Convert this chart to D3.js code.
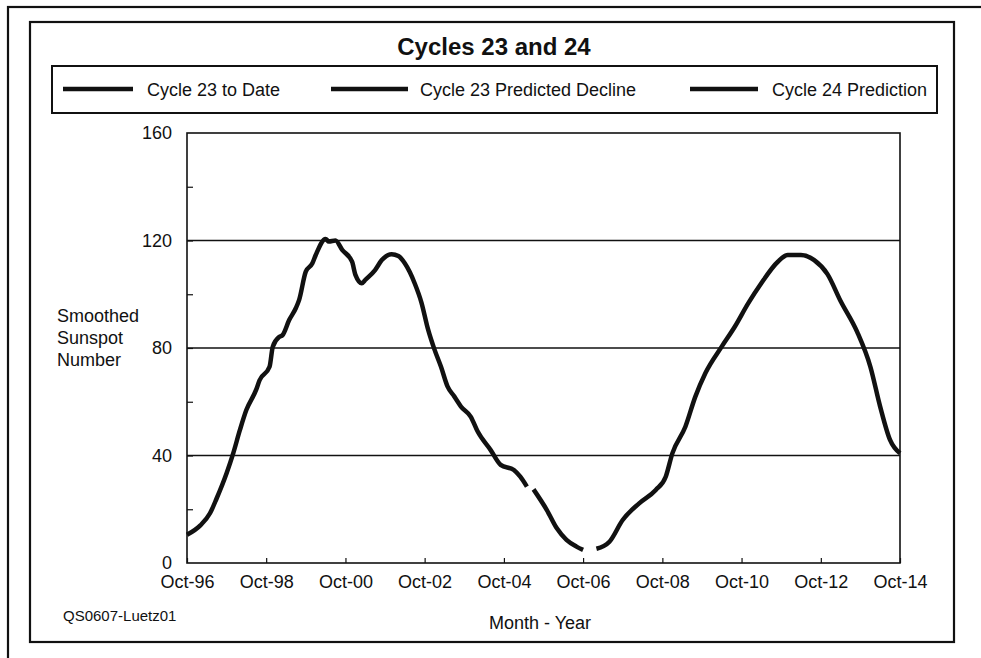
<!DOCTYPE html>
<html>
<head>
<meta charset="utf-8">
<script src="https://cdn.jsdelivr.net/npm/d3@7"></script>
<style>
  html, body { margin: 0; padding: 0; background: #ffffff; }
  svg { display: block; font-family: "Liberation Sans", Arial, sans-serif; }
</style>
</head>
<body>
<svg id="chart" width="981" height="658"></svg>
<script>
// ---- data ----
const title = "Cycles 23 and 24";
const seriesNames = ["Cycle 23 to Date", "Cycle 23 Predicted Decline", "Cycle 24 Prediction"];

const cycle23Dates = ["1996-10","1997-02","1997-05","1997-07","1997-10","1997-12","1998-02","1998-04","1998-07","1998-08","1998-11","1998-12","1999-02","1999-03","1999-05","1999-07","1999-08","1999-10","1999-12","2000-01","2000-04","2000-05","2000-07","2000-09","2000-12","2001-01","2001-03","2001-04","2001-07","2001-09","2001-12","2002-02","2002-04","2002-07","2002-09","2002-11","2003-01","2003-03","2003-05","2003-07","2003-09","2003-12","2004-02","2004-06","2004-09","2005-01","2005-03","2005-05"];
const cycle23Values = [10.5,14,18.5,24,33.4,40.8,49.5,56.9,64.5,68,73,80.5,84.2,84.8,90.4,94.8,97.9,108.4,111.5,114.6,120.6,119.6,120,116.5,112.1,107.2,104.1,105.3,109,112.7,114.9,114.2,111.5,104.1,97,87,79.3,73,65.6,62,58.2,54.4,49,42,36.5,34.6,32.1,28.4];

const declineDates = ["2005-07","2005-11","2006-02","2006-05","2006-08","2006-10"];
const declineValues = [27.4,19.7,12.9,8.6,6.1,4.9];

const cycle24Dates = ["2007-02","2007-06","2007-10","2008-03","2008-08","2008-11","2009-01","2009-05","2009-08","2009-11","2010-04","2010-08","2010-12","2011-04","2011-09","2011-12","2012-04","2012-08","2012-12","2013-04","2013-09","2014-01","2014-04","2014-07","2014-10"];
const cycle24Values = [5.3,7.9,16,22.2,27.2,32.1,40.8,50.7,61.9,70.6,80.5,88,96.6,104.1,112.1,114.6,114.6,112.7,107.5,97.5,86,73,58.2,45.8,40.8];

const yTickLabels = [0, 40, 80, 120, 160];
const yMinorTicks = [20, 40, 60, 80, 100, 120, 140];
const yGridValues = [40, 80, 120];
const xTickDates = ["1996-10","1998-10","2000-10","2002-10","2004-10","2006-10","2008-10","2010-10","2012-10","2014-10"];
const yAxisLabel = ["Smoothed", "Sunspot", "Number"];
const xAxisLabel = "Month - Year";
const sourceNote = "QS0607-Luetz01";

// ---- drawing ----
const parse = d3.timeParse("%Y-%m");
const svg = d3.select("#chart");
const ink = "#111";

// frames
svg.append("rect").attr("x", 8).attr("y", 7).attr("width", 1100).attr("height", 800)
  .attr("fill", "none").attr("stroke", ink).attr("stroke-width", 2.2);
svg.append("rect").attr("x", 30).attr("y", 22).attr("width", 924).attr("height", 620)
  .attr("fill", "#fff").attr("stroke", ink).attr("stroke-width", 2.2);

// title
svg.append("text").attr("x", 494).attr("y", 55).attr("text-anchor", "middle")
  .attr("font-size", 24).attr("font-weight", "bold").attr("fill", ink).text(title);

// legend
svg.append("rect").attr("x", 52).attr("y", 66).attr("width", 885).attr("height", 47)
  .attr("fill", "none").attr("stroke", ink).attr("stroke-width", 2);
const legendPos = [{x1: 63, x2: 133, tx: 147}, {x1: 331, x2: 408, tx: 420}, {x1: 690, x2: 758, tx: 772}];
const legend = svg.append("g").selectAll("g").data(seriesNames).join("g");
legend.append("line")
  .attr("x1", (d, i) => legendPos[i].x1).attr("x2", (d, i) => legendPos[i].x2)
  .attr("y1", 89).attr("y2", 89).attr("stroke", ink).attr("stroke-width", 4.5);
legend.append("text")
  .attr("x", (d, i) => legendPos[i].tx).attr("y", 95.5)
  .attr("font-size", 18).attr("fill", ink).text(d => d);

// scales
const x = d3.scaleTime().domain([parse("1996-10"), parse("2014-10")]).range([187, 900]);
const y = d3.scaleLinear().domain([0, 160]).range([563, 133]);

// gridlines
svg.append("g").selectAll("line").data(yGridValues).join("line")
  .attr("x1", 187).attr("x2", 900).attr("y1", d => y(d)).attr("y2", d => y(d))
  .attr("stroke", ink).attr("stroke-width", 1.3);

// plot frame
svg.append("rect").attr("x", 187).attr("y", y(160)).attr("width", 713).attr("height", y(0) - y(160))
  .attr("fill", "none").attr("stroke", ink).attr("stroke-width", 1.6);

// y axis labels
const yAxis = svg.append("g").attr("transform", "translate(187,0)")
  .call(d3.axisLeft(y).tickValues(yTickLabels).tickSize(0).tickPadding(15).tickFormat(d3.format("d")));
yAxis.select(".domain").remove();
yAxis.selectAll("text").attr("font-size", 18).attr("fill", ink).attr("font-family", "Liberation Sans, Arial, sans-serif");

// y minor ticks (inward)
const yMinor = svg.append("g").attr("transform", "translate(187,0)")
  .call(d3.axisLeft(y).tickValues(yMinorTicks).tickSize(-6).tickFormat(""));
yMinor.select(".domain").remove();
yMinor.selectAll("line").attr("stroke", ink).attr("stroke-width", 1.2);

// x axis
const xAxis = svg.append("g").attr("transform", `translate(0,${y(0)})`)
  .call(d3.axisBottom(x).tickValues(xTickDates.map(parse)).tickSize(-5).tickPadding(12)
    .tickFormat(d3.timeFormat("%b-%y")));
xAxis.select(".domain").remove();
xAxis.selectAll("line").attr("stroke", ink).attr("stroke-width", 1.2);
xAxis.selectAll("text").attr("font-size", 18).attr("fill", ink).attr("font-family", "Liberation Sans, Arial, sans-serif");

// axis titles
svg.append("g").selectAll("text").data(yAxisLabel).join("text")
  .attr("x", 57).attr("y", (d, i) => 322 + i * 22)
  .attr("font-size", 18).attr("fill", ink).text(d => d);
svg.append("text").attr("x", 540).attr("y", 629).attr("text-anchor", "middle")
  .attr("font-size", 18).attr("fill", ink).text(xAxisLabel);
svg.append("text").attr("x", 63).attr("y", 621)
  .attr("font-size", 15).attr("fill", ink).text(sourceNote);

// series lines
const line = d3.line().x(d => x(d[0])).y(d => y(d[1])).curve(d3.curveMonotoneX);
const series = [
  d3.zip(cycle23Dates.map(parse), cycle23Values),
  d3.zip(declineDates.map(parse), declineValues),
  d3.zip(cycle24Dates.map(parse), cycle24Values)
];
svg.append("g").selectAll("path").data(series).join("path")
  .attr("d", line).attr("fill", "none").attr("stroke", ink)
  .attr("stroke-width", 4.5).attr("stroke-linejoin", "round").attr("stroke-linecap", "butt");
</script>
</body>
</html>
